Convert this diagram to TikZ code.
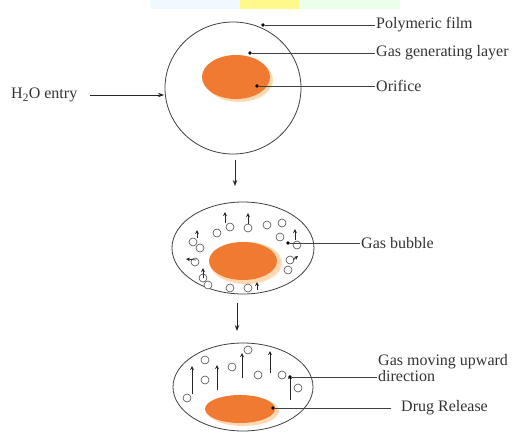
\documentclass[tikz,border=0pt]{standalone}
\usepackage{fontspec}
\setmainfont{Liberation Serif}
\usetikzlibrary{arrows.meta}
\begin{document}
\begin{tikzpicture}[x=1pt,y=-1pt,
  lbl/.style={anchor=west,inner sep=1pt,text=black!80,font=\fontsize{16}{16.5}\selectfont},
  shell/.style={draw=black!75,line width=0.8pt,fill=white},
  halo/.style={fill=orange!30,draw=none},
  lead/.style={draw=black!75,line width=0.8pt},
  dot/.style={circle,fill=black,inner sep=0pt,minimum size=3.8pt},
  flow/.style={draw=black!85,line width=0.8pt,-{Stealth[length=6pt,width=4.5pt]}},
  bub/.style={draw=black!70,line width=0.6pt,fill=white},
  up/.style={draw=black!85,line width=0.7pt,-{Stealth[length=4pt,width=3.8pt]}}]
\useasboundingbox (0,0) rectangle (512,434);
\definecolor{drugc}{RGB}{240,122,50}
% faint page band at top
\fill[cyan!6] (150,0) rectangle (240,9);
\fill[yellow!45] (240,0) rectangle (300,9);
\fill[green!8] (300,0) rectangle (400,9);
% ---------- top tablet ----------
\draw[shell] (233,88) ellipse [x radius=68, y radius=66];
\fill[halo] (239,80) ellipse [x radius=34, y radius=22];
\fill[drugc] (236,77) ellipse [x radius=34, y radius=22];
\node[lbl] (pf) at (375,25) {Polymeric film};
\node[lbl] (gg) at (375,53) {Gas generating layer};
\node[lbl] (of) at (375,86) {Orifice};
\node[lbl] (h2o) at (10,95) {H\textsubscript{2}O entry};
\node[dot] (d1) at (263,25) {};
\node[dot] (d2) at (250,53) {};
\node[dot] (d3) at (257,86) {};
\coordinate (h2otip) at (164,95);
\draw[lead] (d1) -- (pf.west);
\draw[lead] (d2) -- (gg.west);
\draw[lead] (d3) -- (of.west);
\coordinate (h2ostart) at (90,95);
\draw[flow] (h2ostart) -- (h2otip);
% arrow down 1
\coordinate (a1s) at (235,160);
\coordinate (a1e) at (235,186);
\draw[flow] (a1s) -- (a1e);
% ---------- middle tablet ----------
\draw[shell] (243,248) ellipse [x radius=71, y radius=46];
\fill[halo] (246,263) ellipse [x radius=36, y radius=21];
\fill[drugc] (243,261) ellipse [x radius=34, y radius=19];
\foreach \x/\y in {230/227,248/228,267/225,282/223,217/233,280/237,193/242,200/248,297/245,195/262,290/260,288/270,203/278,230/288,248/288,208/285}
  \draw[bub] (\x,\y) circle (4);
\foreach \x/\y/\t in {225/223/212,248/224/213,197/238/230,295/240/229,203/278/268,257/290/282}
  \draw[up] (\x,\y) -- (\x,\t);
\draw[up] (196,260) -- (186,259);
\draw[up] (293,260) -- (298,256);
\node[lbl] (gb) at (360,243) {Gas bubble};
\node[dot] (d4) at (288,243) {};
\draw[lead] (d4) -- (gb.west);
% arrow down 2
\coordinate (a2s) at (237,303);
\coordinate (a2e) at (237,331);
\draw[flow] (a2s) -- (a2e);
% ---------- bottom tablet ----------
\draw[shell] (243,387) ellipse [x radius=70, y radius=44];
\fill[halo] (243,411) ellipse [x radius=36, y radius=15];
\fill[drugc] (240,409) ellipse [x radius=35, y radius=14];
\foreach \x/\y in {187/398,205/360,205/380,232/367,248/350,258/375,282/375,298/388}
  \draw[bub] (\x,\y) circle (4);
\foreach \x/\y/\t in {192/394/366,217/390/365,242/378/353,270/373/351,290/400/375}
  \draw[up] (\x,\y) -- (\x,\t);
\node[lbl,align=left,anchor=north west] (gm) at (377,353) {Gas moving upward\\direction};
\node[dot] (d5) at (290,377) {};
\draw[lead] (d5) -- (d5 -| gm.west);
\node[lbl] (dr) at (400,408) {Drug Release};
\node[dot] (d6) at (273,408) {};
\draw[lead] (d6) -- ++(118,0) coordinate (drend);
\end{tikzpicture}
\end{document}
